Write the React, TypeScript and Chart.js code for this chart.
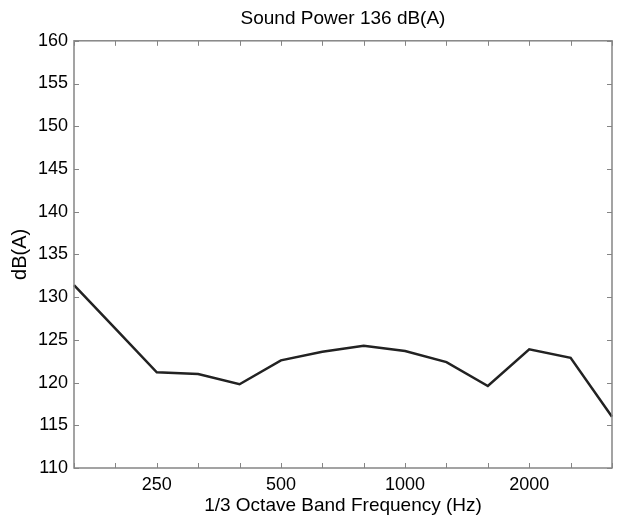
import React, { useEffect, useRef } from "react";
import { Chart, registerables } from "chart.js";

Chart.register(...registerables);

const bandFrequencies = ["160", "200", "250", "315", "400", "500", "630", "800", "1000", "1250", "1600", "2000", "2500", "3150"];
const soundLevels = [131.4, 126.3, 121.2, 121.0, 119.8, 122.6, 123.6, 124.3, 123.7, 122.4, 119.6, 123.9, 122.9, 116.0];
const labeledFrequencies = ["250", "500", "1000", "2000"];
const yMin = 110;
const yMax = 160;
const yStep = 5;

const FONT = "'Liberation Sans', Arial, Helvetica, sans-serif";
const AXIS_COLOR = "#858585";

const innerTicks = {
  id: "innerTicks",
  afterDraw(chart: any) {
    const { ctx, chartArea } = chart;
    const xs = chart.scales.x;
    const ys = chart.scales.y;
    const len = 5;
    ctx.save();
    ctx.strokeStyle = AXIS_COLOR;
    ctx.lineWidth = 1;
    ctx.beginPath();
    xs.ticks.forEach((_: any, i: number) => {
      const x = Math.round(xs.getPixelForTick(i)) + 0.5;
      ctx.moveTo(x, chartArea.bottom);
      ctx.lineTo(x, chartArea.bottom - len);
      ctx.moveTo(x, chartArea.top);
      ctx.lineTo(x, chartArea.top + len);
    });
    ys.ticks.forEach((_: any, i: number) => {
      const y = Math.round(ys.getPixelForTick(i)) + 0.5;
      ctx.moveTo(chartArea.left, y);
      ctx.lineTo(chartArea.left + len, y);
      ctx.moveTo(chartArea.right, y);
      ctx.lineTo(chartArea.right - len, y);
    });
    ctx.stroke();
    ctx.lineWidth = 1.5;
    ctx.strokeRect(chartArea.left, chartArea.top, chartArea.right - chartArea.left, chartArea.bottom - chartArea.top);
    ctx.restore();
  },
};

export default function App() {
  const ref = useRef<HTMLCanvasElement | null>(null);

  useEffect(() => {
    if (!ref.current) return;
    const chart = new Chart(ref.current, {
      type: "line",
      data: {
        labels: bandFrequencies,
        datasets: [
          {
            data: soundLevels,
            borderColor: "#222222",
            borderWidth: 2.5,
            pointRadius: 0,
            tension: 0,
            fill: false,
          },
        ],
      },
      options: {
        responsive: false,
        animation: false,
        layout: { padding: { left: 0, right: 3, top: 0, bottom: 0 } },
        plugins: {
          legend: { display: false },
          tooltip: { enabled: false },
          title: {
            display: true,
            fullSize: false,
            text: "Sound Power 136 dB(A)",
            color: "#000",
            font: { family: FONT, size: 19, weight: "normal" },
            padding: { top: 7, bottom: 11 },
          },
        },
        scales: {
          x: {
            type: "category",
            offset: false,
            grid: { display: false, drawOnChartArea: false, drawTicks: false },
            border: { display: false },
            ticks: {
              autoSkip: false,
              maxRotation: 0,
              padding: 6,
              color: "#000",
              font: { family: FONT, size: 18 },
              callback: (_v: any, i: number) =>
                labeledFrequencies.includes(bandFrequencies[i]) ? bandFrequencies[i] : "",
            },
            title: {
              display: true,
              text: "1/3 Octave Band Frequency (Hz)",
              color: "#000",
              font: { family: FONT, size: 19 },
              padding: { top: 0, bottom: 1 },
            },
            afterFit: (s: any) => {
              s.height = 50;
            },
          },
          y: {
            min: yMin,
            max: yMax,
            grid: { display: false, drawOnChartArea: false, drawTicks: false },
            border: { display: false },
            ticks: {
              stepSize: yStep,
              padding: 6,
              color: "#000",
              font: { family: FONT, size: 18 },
            },
            title: {
              display: true,
              text: "dB(A)",
              color: "#000",
              font: { family: FONT, size: 20 },
              padding: { top: 8, bottom: 0 },
            },
            afterFit: (s: any) => {
              s.width = 74;
            },
          },
        },
      },
      plugins: [innerTicks],
    });
    return () => chart.destroy();
  }, []);

  return (
    <div style={{ position: "absolute", left: 0, top: 0, width: 618, height: 518, background: "#fff" }}>
      <canvas ref={ref} width={618} height={518} />
    </div>
  );
}
